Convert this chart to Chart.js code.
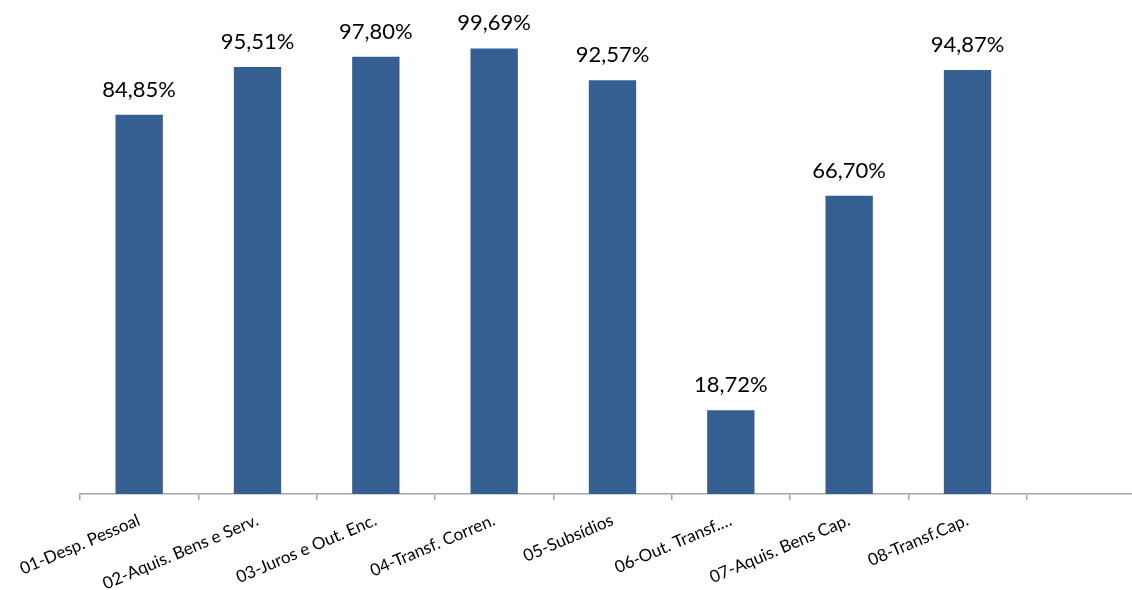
<!DOCTYPE html>
<html>
<head>
<meta charset="utf-8">
<script src="https://cdn.jsdelivr.net/npm/chart.js@4"></script>
<style>
  html, body { margin: 0; padding: 0; background: #fff; overflow: hidden; }
  #wrap { width: 1146px; height: 590px; }
</style>
</head>
<body>
<div id="wrap"><canvas id="grafico"></canvas></div>
<script>
const categorias = [
  '01-Desp. Pessoal', '02-Aquis. Bens e Serv.', '03-Juros e Out. Enc.',
  '04-Transf. Corren.', '05-Subsídios', '06-Out. Transf.…',
  '07-Aquis. Bens Cap.', '08-Transf.Cap.', ''
];
const execucao = [84.85, 95.51, 97.80, 99.69, 92.57, 18.72, 66.70, 94.87, null];

const fonte = 'Lato, "Open Sans", sans-serif';

// rótulos de valor acima de cada barra, no formato 84,85%
const rotulosBarras = {
  id: 'rotulosBarras',
  afterDatasetsDraw(chart) {
    const ctx = chart.ctx;
    const meta = chart.getDatasetMeta(0);
    ctx.save();
    ctx.font = '22px ' + fonte;
    ctx.fillStyle = '#000';
    ctx.textAlign = 'center';
    ctx.textBaseline = 'alphabetic';
    meta.data.forEach((barra, i) => {
      const v = execucao[i];
      if (v == null) return;
      ctx.fillText(v.toFixed(2).replace('.', ',') + '%', barra.x, barra.y - 18);
    });
    ctx.restore();
  }
};

new Chart(document.getElementById('grafico'), {
  type: 'bar',
  data: {
    labels: categorias,
    datasets: [{
      data: execucao,
      backgroundColor: '#365F91',
      borderWidth: 0,
      barPercentage: 0.8,
      categoryPercentage: 0.5
    }]
  },
  options: {
    responsive: true,
    maintainAspectRatio: false,
    animation: false,
    layout: { autoPadding: false, padding: { top: 47, left: 80, right: 1, bottom: 0 } },
    plugins: { legend: { display: false }, tooltip: { enabled: false } },
    scales: {
      x: {
        offset: true,
        afterFit(scale) { scale.height = 96; },
        border: { display: true, color: '#a6a6a6', width: 1.5 },
        grid: { offset: true, drawOnChartArea: false, drawTicks: true, tickLength: 6, color: '#a6a6a6', lineWidth: 1.5 },
        ticks: {
          autoSkip: false,
          minRotation: 23,
          maxRotation: 23,
          padding: 10,
          color: '#000',
          font: { family: fonte, size: 17 }
        }
      },
      y: {
        display: false,
        min: 0,
        max: 100
      }
    }
  },
  plugins: [rotulosBarras]
});
</script>
</body>
</html>
